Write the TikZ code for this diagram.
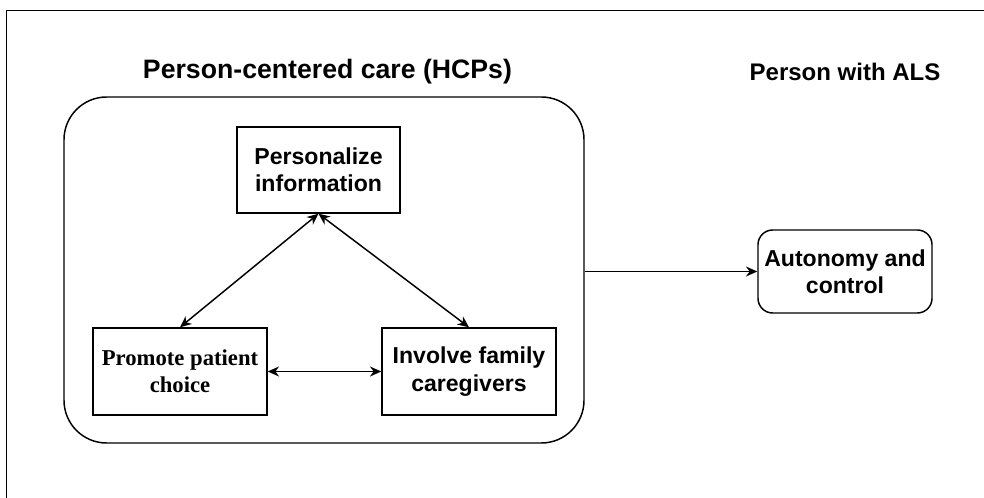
\documentclass[tikz,border=0pt]{standalone}
\usepackage{fontspec}
\setmainfont{Liberation Sans}
\newfontfamily\garfont{Liberation Serif}
\usetikzlibrary{arrows.meta}

\begin{document}
\begin{tikzpicture}[x=0.75pt,y=-0.75pt,
	box/.style={draw, line width=1.1pt, align=center, inner sep=0pt,
		font=\bfseries\fontsize{17.3}{20.5}\selectfont},
	heading/.style={font=\bfseries\fontsize{20}{22}\selectfont},
	link/.style={line width=1.1pt, {Stealth[length=8.5pt,width=7.5pt]}-{Stealth[length=8.5pt,width=7.5pt]}}]
	\useasboundingbox (0,0) rectangle (984,498);
	\draw [line width=1.2pt] (984,10.5) -- (6.5,10.5) -- (6.5,498);
	\node [box, rounded corners=32pt, minimum width=390pt, minimum height=259.5pt] (hcp) at (324,270) {};
	\node [heading] (hcptitle) at (327.5,72) {Person-centered care (HCPs)};
	\node [heading, font=\bfseries\fontsize{18}{22}\selectfont] (alstitle) at (845,72) {Person with ALS};
	\node [box, minimum width=122.25pt, minimum height=64.5pt] (info) at (318.5,170) {Personalize\\information};
	\node [box, minimum width=130.5pt, minimum height=65.25pt, font=\garfont\bfseries\fontsize{17}{20.5}\selectfont] (choice) at (180,371.5) {Promote patient\\choice};
	\node [box, minimum width=130.5pt, minimum height=65.25pt] (family) at (469,371.5) {Involve family\\caregivers};
	\node [box, rounded corners=11pt, minimum width=130.5pt, minimum height=62.25pt] (autonomy) at (845,271.5) {Autonomy and\\control};
	\draw [link] (info.south) -- (choice.north);
	\draw [link] (info.south) -- (family.north);
	\draw [link] (choice.east) -- (family.west);
	\draw [line width=1.1pt, -{Stealth[length=8.5pt,width=7.5pt]}] (hcp.east |- autonomy.west) -- (autonomy.west);
\end{tikzpicture}
\end{document}
